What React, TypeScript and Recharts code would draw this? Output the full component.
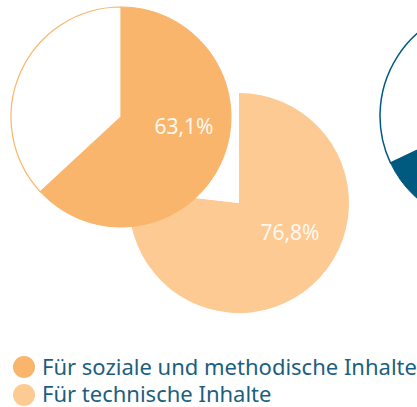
import { Cell, Pie, PieChart } from 'recharts';

const SOCIAL = [
  { name: 'Für soziale und methodische Inhalte', value: 63.1 },
  { name: 'rest', value: 36.9 }
];
const TECHNICAL = [
  { name: 'Für technische Inhalte', value: 76.8 },
  { name: 'rest', value: 23.2 }
];
const NEXT = [
  { name: 'weitere', value: 68 },
  { name: 'rest', value: 32 }
];
const LEGEND = [
  { label: 'Für soziale und methodische Inhalte', color: '#F9B56B' },
  { label: 'Für technische Inhalte', color: '#FDCA93' }
];

const BLUE = '#005A80';
const FONT = '"Noto Sans", "Open Sans", sans-serif';

function makeLabel(dx: number, dy: number) {
  return (props: any) => {
    if (props.index !== 0) return null;
    return (
      <text
        x={props.cx + dx}
        y={props.cy + dy}
        fill="#FFF8EE"
        fontFamily={FONT}
        fontSize={21}
        textAnchor="middle"
        dominantBaseline="central"
      >
        {`${props.value.toFixed(1).replace('.', ',')}%`}
      </text>
    );
  };
}

export default function App() {
  return (
    <div style={{ position: 'absolute', left: 0, top: 0, width: 417, height: 407, background: '#fff' }}>
      <PieChart width={417} height={407} margin={{ top: 0, right: 0, bottom: 0, left: 0 }}>
        <Pie
          data={TECHNICAL}
          dataKey="value"
          cx={239}
          cy={203}
          outerRadius={110}
          startAngle={90}
          endAngle={-270}
          isAnimationActive={false}
          label={makeLabel(51, 29)}
          labelLine={false}
        >
          <Cell fill="#FDCA93" stroke="none" />
          <Cell fill="#FFFFFF" stroke="none" />
        </Pie>
        <Pie
          data={SOCIAL}
          dataKey="value"
          cx={121}
          cy={117}
          outerRadius={110}
          startAngle={90}
          endAngle={-270}
          isAnimationActive={false}
          label={makeLabel(63, 9)}
          labelLine={false}
        >
          <Cell fill="#F9B56B" stroke="#F9B56B" strokeWidth={1} />
          <Cell fill="#FFFFFF" stroke="#F9B56B" strokeWidth={1.2} />
        </Pie>
        <Pie
          data={NEXT}
          dataKey="value"
          cx={490}
          cy={116}
          outerRadius={110}
          startAngle={90}
          endAngle={-270}
          isAnimationActive={false}
        >
          <Cell fill={BLUE} stroke={BLUE} strokeWidth={1} />
          <Cell fill="#FFFFFF" stroke={BLUE} strokeWidth={1.5} />
        </Pie>
      </PieChart>
      <svg width={417} height={60} style={{ position: 'absolute', left: 0, top: 347 }}>
        {LEGEND.map((item, i) => (
          <g key={item.label}>
            <circle cx={24} cy={20 + i * 28} r={11} fill={item.color} />
            <text x={42} y={28 + i * 27} fill="#1B5F80" fontFamily={FONT} fontSize={22}>
              {item.label}
            </text>
          </g>
        ))}
      </svg>
    </div>
  );
}
